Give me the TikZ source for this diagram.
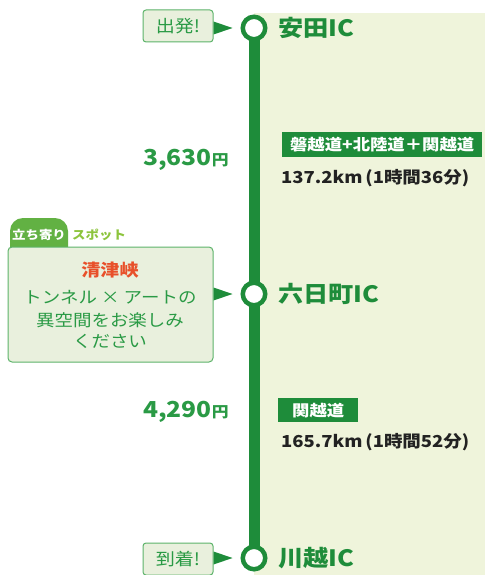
\documentclass[tikz,border=0pt]{standalone}
\usepackage{fontspec}
\setmainfont{Noto Sans CJK JP}[FakeStretch=1.12]
\usetikzlibrary{calc}
\definecolor{mainG}{HTML}{1E8C3A}
\definecolor{textG}{HTML}{2A9A45}
\definecolor{bgG}{HTML}{EFF4DB}
\definecolor{boxG}{HTML}{E9F0DD}
\definecolor{boxB}{HTML}{5DB36A}
\definecolor{tabG}{HTML}{62B143}
\definecolor{spotG}{HTML}{8CC43C}
\definecolor{orangeR}{HTML}{E8502A}
\definecolor{darkT}{HTML}{222222}
\newcommand{\fs}[1]{\fontsize{#1}{#1}\selectfont}
\begin{document}
\begin{tikzpicture}[x=1pt,y=-1pt,
  station/.style={circle, draw=mainG, line width=4.5pt, fill=white, minimum size=22.5pt, inner sep=0pt},
  iclabel/.style={anchor=west, text=mainG, font=\fs{22.5}\bfseries, inner sep=0pt},
  tagbox/.style={draw=boxB, fill=boxG, rounded corners=3pt, line width=1pt, minimum width=70pt, minimum height=32pt, inner sep=0pt, text=textG, font=\fs{17}},
  pointer/.style={fill=mainG},
  fare/.style={anchor=west, text=textG, inner sep=0pt, font=\fs{22}\bfseries},
  route/.style={fill=mainG, text=white, anchor=north west, inner sep=0pt, font=\fs{15.5}\bfseries},
  dist/.style={anchor=west, text=darkT, inner sep=0pt, font=\fs{16.5}\bfseries},
  spotline/.style={text=textG, inner sep=0pt, font=\fs{16.5}},
]
\useasboundingbox (0,0) rectangle (485,575);
% background panel
\fill[bgG] (254,13) rectangle (485,575);
% route line
\coordinate (p1) at (254,28);
\coordinate (p2) at (254,294);
\coordinate (p3) at (254,558);
\draw[mainG, line width=11pt] (p1) -- (p3);
% stations
\node[station] (c1) at (p1) {};
\node[station] (c2) at (p2) {};
\node[station] (c3) at (p3) {};
\node[iclabel] (l1) at (278,28) {安田IC};
\node[iclabel] (l2) at (278,294) {六日町IC};
\node[iclabel] (l3) at (278,558) {川越IC};
% start / goal tags
\node[tagbox] (start) at (178,26) {出発!};
\node[tagbox] (goal) at (178,559) {到着!};
\fill[pointer] ($(start.east|-c1)+(0,-6.5)$) -- ($(start.east|-c1)+(19,0)$) -- ($(start.east|-c1)+(0,6.5)$) -- cycle;
\fill[pointer] ($(goal.east|-c3)+(0,-6.5)$) -- ($(goal.east|-c3)+(19,0)$) -- ($(goal.east|-c3)+(0,6.5)$) -- cycle;
% fares
\node[fare] (f1) at (143,160) {3,630{\fs{15}円}};
\node[fare] (f2) at (143,412) {4,290{\fs{15}円}};
% route info
\node[route, minimum width=200pt, minimum height=25pt] (r1) at (282,132) {磐越道+北陸道＋関越道};
\node[dist] (d1) at (281,178) {137.2km\,(1時間36分)};
\node[route, minimum width=80pt, minimum height=24pt] (r2) at (278,398) {関越道};
\node[dist] (d2) at (281,442) {165.7km\,(1時間52分)};
% spot box
\fill[tabG] (10,248) [rounded corners=13pt] -- (10,218) -- (68,218) [sharp corners] -- (68,248) -- cycle;
\node[text=white, font=\fs{12}\bfseries, inner sep=0pt] (tab) at (39,235) {立ち寄り};
\node[anchor=west, text=spotG, font=\fs{12}\bfseries, inner sep=0pt] (tab2) at (72,235) {スポット};
\node[draw=boxB, fill=boxG, rounded corners=4pt, line width=1pt, minimum width=205pt, minimum height=115pt, inner sep=0pt] (spot) at (110.5,304.5) {};
\fill[pointer] ($(spot.east|-c2)+(0,-6.5)$) -- ($(spot.east|-c2)+(19,0)$) -- ($(spot.east|-c2)+(0,6.5)$) -- cycle;
\node[text=orangeR, font=\fs{17}\bfseries, inner sep=0pt] (s1) at (110,270) {清津峡};
\node[spotline] (s2) at (110,297) {トンネル × アートの};
\node[spotline] (s3) at (110,320) {異空間をお楽しみ};
\node[spotline] (s4) at (110,341) {ください};
\end{tikzpicture}
\end{document}
